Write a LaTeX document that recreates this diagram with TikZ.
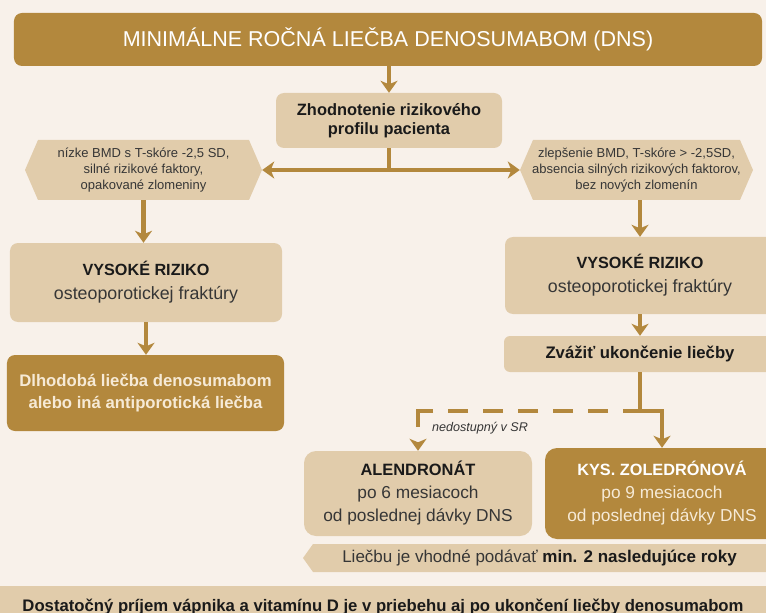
\documentclass[tikz,border=0pt]{standalone}
\usepackage{fontspec}
\setmainfont{Liberation Sans}
\usetikzlibrary{arrows.meta}
\definecolor{gold}{HTML}{B3883D}
\definecolor{tan}{HTML}{E1CCAB}
\definecolor{bgc}{HTML}{F8F1EA}
\definecolor{ink}{HTML}{1A1A1A}
\definecolor{txtgray}{HTML}{363636}
\definecolor{cream}{HTML}{F6EAD6}
\newcommand{\myfs}[2]{\fontsize{#1bp}{#2bp}\selectfont}
\begin{document}
\begin{tikzpicture}[x=1bp,y=-1bp,
  box/.style={rounded corners=8bp, inner sep=0pt, align=center},
  lightbox/.style={box, fill=tan, text=ink},
  darkbox/.style={box, fill=gold, text=white},
  hextext/.style={inner sep=0pt, align=center, text=txtgray, font=\myfs{13}{16}},
  conn/.style={draw=gold, line width=4.5bp},
  arr/.style={conn, -{Stealth[length=12bp,width=17bp,inset=3.5bp]}},
]
\fill[bgc] (0,0) rectangle (766,613);
\useasboundingbox (0,0) rectangle (766,613);

% title
\node[darkbox, minimum width=748bp, minimum height=53bp, font=\myfs{21.5}{26}] (title) at (388,39.5)
  {MINIMÁLNE ROČNÁ LIEČBA DENOSUMABOM (DNS)};

% assessment
\node[lightbox, minimum width=226bp, minimum height=55bp, font=\bfseries\myfs{16.4}{19.5}] (zhod) at (389,120.5)
  {Zhodnotenie rizikového\\profilu pacienta};
\draw[arr] (title.south -| zhod.north) -- (zhod.north);

% hexagons
\fill[tan] (25,170) -- (38,140) -- (249,140) -- (262,170) -- (249,200) -- (38,200) -- cycle;
\node[hextext, minimum width=237bp, minimum height=60bp] (hexL) at (143.5,170)
  {nízke BMD s T-skóre -2,5 SD,\\silné rizikové faktory,\\opakované zlomeniny};
\fill[tan] (520,170) -- (533,140) -- (740,140) -- (753,170) -- (740,200) -- (533,200) -- cycle;
\node[hextext, minimum width=233bp, minimum height=60bp] (hexR) at (636.5,170)
  {zlepšenie BMD, T-skóre > -2,5SD,\\absencia silných rizikových faktorov,\\bez nových zlomenín};

\coordinate (junc) at (389,170);
\draw[conn] (zhod.south) -- (junc);
\draw[arr] (junc) -- (hexL.east);
\draw[arr] (junc) -- (hexR.west);

% left branch
\node[lightbox, minimum width=272bp, minimum height=79bp, font=\myfs{16}{24}] (vysL) at (146,282.5)
  {{\bfseries\myfs{16.2}{24}VYSOKÉ RIZIKO}\\{\myfs{17.8}{24}\color{txtgray}osteoporotickej fraktúry}};
\draw[arr] (hexL.south) -- (hexL.south |- vysL.north);

\node[darkbox, minimum width=277bp, minimum height=76bp, font=\bfseries\myfs{16.7}{22}, text=cream] (dlh) at (145.5,393)
  {Dlhodobá liečba denosumabom\\alebo iná antiporotická liečba};
\draw[arr] (vysL.south) -- (vysL.south |- dlh.north);

% right branch
\node[lightbox, minimum width=270bp, minimum height=77bp, font=\myfs{16}{24}] (vysR) at (640,275.5)
  {{\bfseries\myfs{16.2}{24}VYSOKÉ RIZIKO}\\{\myfs{17.8}{24}\color{txtgray}osteoporotickej fraktúry}};
\draw[arr] (vysR.north |- hexR.south) -- (vysR.north);

\node[lightbox, rounded corners=6bp, minimum width=272bp, minimum height=36bp, font=\bfseries\myfs{16.7}{20}] (zvaz) at (640,354)
  {Zvážiť ukončenie liečby};
\draw[arr] (vysR.south) -- (zvaz.north);

\node[lightbox, rounded corners=12bp, minimum width=228bp, minimum height=85bp, font=\myfs{17.3}{23}] (alen) at (418,493.5)
  {{\bfseries\myfs{16.4}{23}\color{ink}ALENDRONÁT}\\{\color{txtgray}po 6 mesiacoch}\\{\color{txtgray}od poslednej dávky DNS}};
\node[darkbox, rounded corners=12bp, minimum width=234bp, minimum height=91bp, font=\myfs{17.3}{23}] (kys) at (662,493.5)
  {{\bfseries\myfs{16.3}{23}\color{white}KYS. ZOLEDRÓNOVÁ}\\{\color{cream}po 9 mesiacoch}\\{\color{cream}od poslednej dávky DNS}};

\coordinate (br) at (640,411);
\draw[conn] (zvaz.south) -- (br);
\draw[arr, line join=miter] (br) -- (br -| kys.north) -- (kys.north);
\draw[arr, line join=miter,
  dash pattern=on 17bp off 15bp on 20bp off 15bp on 20bp off 15bp on 20bp off 15bp on 20bp off 15bp on 20bp off 15bp on 31bp off 80bp]
  (br) -- (br -| alen.north) -- (alen.north);
\node[font=\itshape\myfs{12.6}{15}, text=txtgray] (nedo) at (480,428) {nedostupný v SR};

% banner
\fill[tan] (303,558) -- (313,544) -- (780,544) -- (780,572) -- (313,572) -- cycle;
\node[font=\myfs{17}{20}, text=txtgray, inner sep=0pt] (ban) at (539.5,558)
  {Liečbu je vhodné podávať {\bfseries\color{ink}min. 2 nasledujúce roky}};

% footer
\fill[tan] (-5,586) rectangle (771,620);
\node[font=\bfseries\myfs{16.7}{20}, text=ink, inner sep=0pt, anchor=base] (foot) at (383,611)
  {Dostatočný príjem vápnika a vitamínu D je v priebehu aj po ukončení liečby denosumabom};
\end{tikzpicture}
\end{document}
